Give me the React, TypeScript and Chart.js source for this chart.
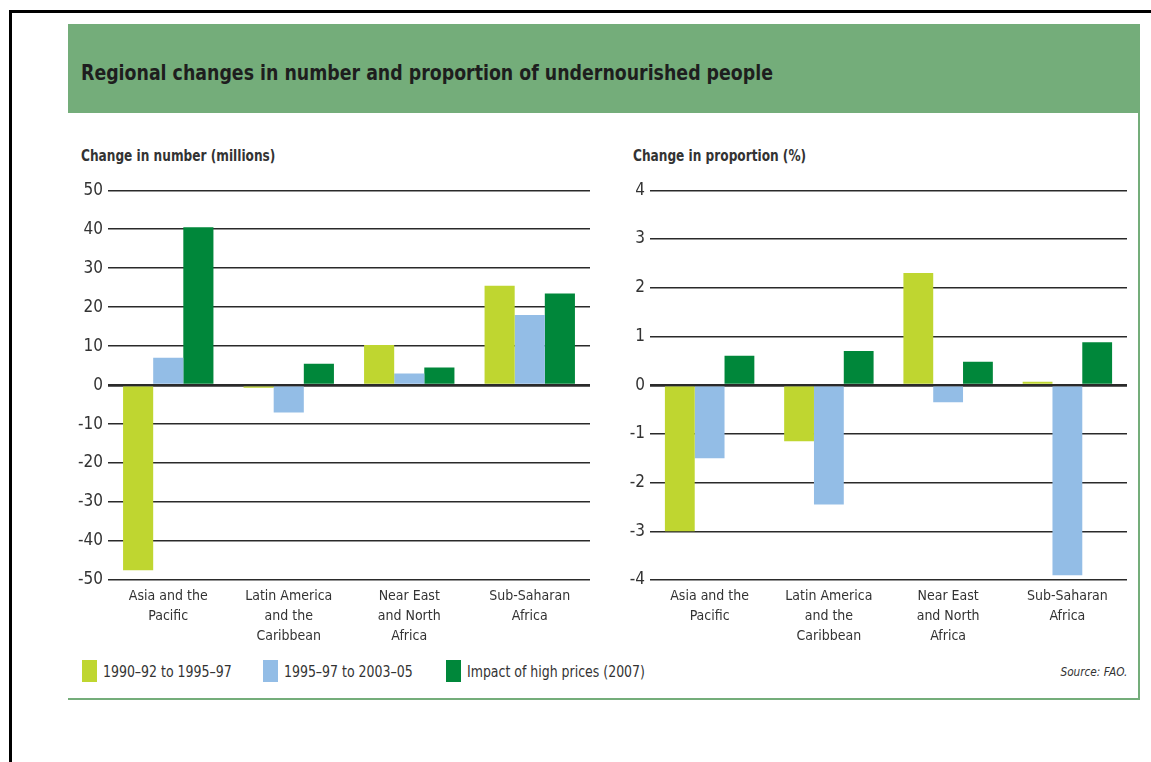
import React, { useEffect, useRef, useState } from "react";
import { Chart, registerables } from "chart.js";

Chart.register(...registerables);

const TITLE = "Regional changes in number and proportion of undernourished people";
const categories: string[][] = [
  ["Asia and the", "Pacific"],
  ["Latin America", "and the", "Caribbean"],
  ["Near East", "and North", "Africa"],
  ["Sub-Saharan", "Africa"],
];
const seriesNames = ["1990–92 to 1995–97", "1995–97 to 2003–05", "Impact of high prices (2007)"];
const seriesColors = ["#bfd630", "#93bde6", "#00873a"];

// Change in number (millions)
const numA = [-47.5, -0.7, 10.3, 25.5];
const numB = [7, -7, 3, 18];
const numC = [40.5, 5.5, 4.5, 23.5];
const numTicks = [-50, -40, -30, -20, -10, 0, 10, 20, 30, 40, 50];

// Change in proportion (%)
const propA = [-3.0, -1.15, 2.3, 0.07];
const propB = [-1.5, -2.45, -0.35, -3.9];
const propC = [0.6, 0.7, 0.48, 0.88];
const propTicks = [-4, -3, -2, -1, 0, 1, 2, 3, 4];

const NARROW = "'Liberation Sans Narrow', 'DejaVu Sans Condensed', sans-serif";

function BarPanel(props: {
  left: number; top: number; width: number; height: number;
  yWidth: number; padTop: number;
  a: number[]; b: number[]; c: number[]; ticks: number[];
}) {
  const ref = useRef<HTMLCanvasElement>(null);
  const [err, setErr] = useState("");
  useEffect(() => {
    if (!ref.current) return;
    let chart: Chart | null = null;
    try {
      const min = props.ticks[0];
      const max = props.ticks[props.ticks.length - 1];
      const step = props.ticks[1] - props.ticks[0];
      chart = new Chart(ref.current, {
        type: "bar",
        data: {
          labels: categories,
          datasets: [props.a, props.b, props.c].map((d, i) => ({
            label: seriesNames[i],
            data: d,
            backgroundColor: seriesColors[i],
            borderWidth: 0,
            categoryPercentage: 0.75,
            barPercentage: 1.0,
          })),
        },
        options: {
          animation: false,
          responsive: false,
          maintainAspectRatio: false,
          layout: { padding: { top: props.padTop, right: 10, left: 0, bottom: 0 } },
          plugins: { legend: { display: false }, tooltip: { enabled: false } },
          scales: {
            x: {
              grid: { display: false, drawTicks: false },
              border: { display: false },
              ticks: {
                color: "#333",
                font: { family: NARROW, size: 14, lineHeight: "20px" },
                padding: 6,
                maxRotation: 0,
                autoSkip: false,
              },
              afterFit: (s: any) => { s.height = props.top + props.height - 580; },
            },
            y: {
              min, max,
              grid: {
                drawTicks: false,
                color: "#2a2a2a",
                lineWidth: (ctx: any) => (ctx.tick && ctx.tick.value === 0 ? 2.8 : 1.4),
              },
              border: { display: false },
              ticks: {
                stepSize: step,
                color: "#333",
                font: { family: NARROW, size: 17 },
                padding: 5,
              },
              afterFit: (s: any) => { s.width = props.yWidth; },
            },
          },
        },
      } as any);
    } catch (e: any) {
      setErr(String(e && e.stack ? e.stack : e));
    }
    return () => { if (chart) chart.destroy(); };
  }, []);
  return (
    <>
      <canvas
        ref={ref}
        width={props.width}
        height={props.height}
        style={{ position: "absolute", left: props.left, top: props.top, width: props.width, height: props.height }}
      />
      {err ? <pre style={{ position: "absolute", left: props.left, top: props.top, fontSize: 10, color: "red" }}>{err}</pre> : null}
    </>
  );
}

const abs = (s: React.CSSProperties): React.CSSProperties => ({ position: "absolute", ...s });

function Txt(props: { x: number; y: number; size: number; sx: number; bold?: boolean; italic?: boolean; color?: string; right?: boolean; children: React.ReactNode }) {
  return (
    <div
      style={abs({
        left: props.right ? undefined : props.x,
        right: props.right ? 1151 - props.x : undefined,
        top: props.y,
        fontFamily: NARROW,
        fontSize: props.size,
        fontWeight: props.bold ? "bold" : "normal",
        fontStyle: props.italic ? "italic" : "normal",
        color: props.color || "#333",
        whiteSpace: "nowrap",
        lineHeight: "1.2",
        transform: `scaleX(${props.sx})`,
        transformOrigin: props.right ? "right center" : "left center",
      })}
    >
      {props.children}
    </div>
  );
}

export default function App() {
  const legendX = [82, 263, 446];
  return (
    <div>
      <div style={abs({ left: 9, top: 10, width: 1142, height: 752, borderTop: "3px solid #000", borderLeft: "3px solid #000", boxSizing: "border-box" })} />
      <div style={abs({ left: 68, top: 24, width: 1072, height: 89, background: "#74ad7a" })} />
      <Txt x={81} y={61} size={21} sx={0.92} bold color="#1e1e1e">{TITLE}</Txt>
      <div style={abs({ left: 1138, top: 113, width: 2, height: 587, background: "#74ad7a" })} />
      <div style={abs({ left: 68, top: 698, width: 1072, height: 2, background: "#74ad7a" })} />

      <Txt x={81} y={147} size={15} sx={0.9} bold>Change in number (millions)</Txt>
      <Txt x={633} y={147} size={15} sx={0.9} bold>Change in proportion (%)</Txt>

      <BarPanel left={58} top={175} width={542} height={480} yWidth={50} padTop={12} a={numA} b={numB} c={numC} ticks={numTicks} />
      <BarPanel left={600} top={175} width={537} height={480} yWidth={50} padTop={13} a={propA} b={propB} c={propC} ticks={propTicks} />

      {seriesNames.map((n, i) => (
        <React.Fragment key={n}>
          <div style={abs({ left: legendX[i], top: 660, width: 15, height: 22, background: seriesColors[i] })} />
          <Txt x={legendX[i] + 21} y={662} size={16} sx={0.87}>{n}</Txt>
        </React.Fragment>
      ))}
      <Txt x={1127} y={664} size={13} sx={0.9} italic right>Source: FAO.</Txt>
    </div>
  );
}
